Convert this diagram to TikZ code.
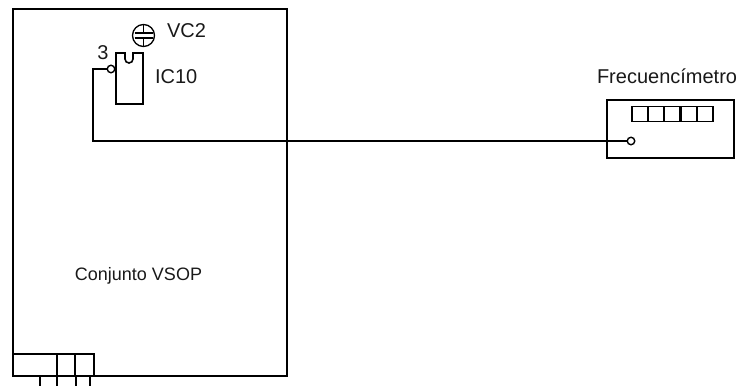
\documentclass[tikz,border=0pt]{standalone}
\usepackage{fontspec}
\setmainfont{Liberation Sans}
\begin{document}
\begin{tikzpicture}[
  x=1pt,y=-1pt,
  line width=1.6pt,
  every node/.style={inner sep=0pt,outer sep=0pt},
  box/.style={draw,rectangle,minimum width=#1},
  pin/.style={draw,circle,fill=white,line width=1.4pt,minimum size=7.5pt},
  label/.style={font=\fontsize{20}{24}\selectfont,text=black!90}
]
  \useasboundingbox (0,0) rectangle (743,386);
  % board
  \node[box=274pt,minimum height=367pt,line width=1.9pt] (board) at (150,192.5) {};
  \node[box=81pt,minimum height=22pt] (plug) at (53.5,365) {};
  \draw (57,354) -- (57,376);
  \draw (75,354) -- (75,376);
  \foreach \leadx in {40,57,76,90}
    \draw[line width=1.3pt] (\leadx,376) -- (\leadx,386);
  % chip
  \draw (116,53) -- (125,53) -- (125,59) arc[start angle=180,end angle=360,radius=4pt]
    -- (133,53) -- (143,53) -- (143,104) -- (116,104) -- cycle;
  \node[pin] (icpin) at (111,69) {};
  \node[label] (pinnum) at (103,53) {3};
  \node[label,anchor=west] (iclabel) at (155,77) {IC10};
  % trimmer
  \node[draw,circle,minimum size=22pt,line width=1.3pt] (trim) at (143.5,35.5) {};
  \draw[line width=1.2pt] (trim.west) ++(2,-2.5) -- ++(18,0);
  \draw[line width=1.2pt] (trim.west) ++(2,2.5) -- ++(18,0);
  \draw[line width=1.2pt] (trim.north) -- ++(0,8.5);
  \draw[line width=1.2pt] (trim.south) -- ++(0,-8.5);
  \node[label,anchor=west] (vclabel) at (167,31) {VC2};
  \node[label,font=\fontsize{18}{22}\selectfont] (boardlabel) at (138.5,276) {Conjunto VSOP};
  % meter
  \node[box=127pt,minimum height=58pt] (meter) at (670.5,129) {};
  \foreach \cellx in {640,656,672,689,705}
    \node[box=16.2pt,minimum height=15pt,line width=1.3pt] (cell\cellx) at (\cellx,114) {};
  \node[pin] (meterpin) at (631,141) {};
  \node[label,anchor=west] (meterlabel) at (597,76) {Frecuencímetro};
  % wire
  \coordinate (wirea) at (93,69);
  \coordinate (wireb) at (93,141);
  \draw[line width=1.3pt] (icpin) -- (wirea) -- (wireb) -- (meterpin);
\end{tikzpicture}
\end{document}
